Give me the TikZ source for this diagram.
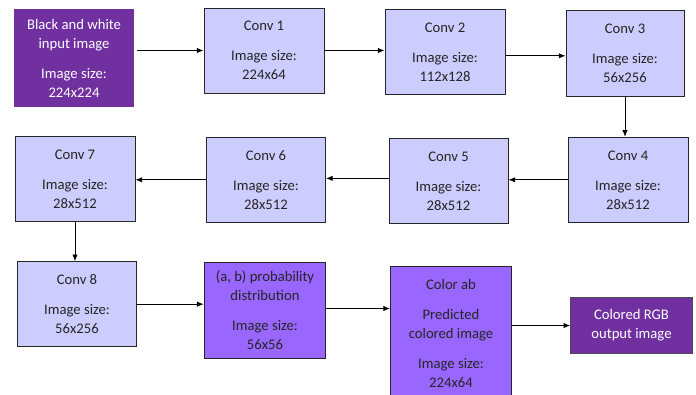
\documentclass[tikz,border=0pt]{standalone}
\usepackage{fontspec}
\setmainfont{Carlito}
\usetikzlibrary{arrows.meta}
\definecolor{darkp}{HTML}{7030A0}
\definecolor{lightp}{HTML}{CCCCFF}
\definecolor{midp}{HTML}{9966FF}
\definecolor{txt}{HTML}{262626}
\begin{document}
\begin{tikzpicture}[x=0.75pt,y=-0.75pt,
  every node/.style={font=\fontsize{11}{14.25}\selectfont, align=center, inner sep=0pt},
  lbox/.style={draw=black!85, line width=0.75pt, fill=lightp, text=txt},
  pbox/.style={draw=black!85, line width=0.75pt, fill=midp, text=txt},
  dbox/.style={fill=darkp, text=white},
  rbox/.style={draw=black!70, line width=0.75pt, fill=darkp, text=white},
  arr/.style={-{Latex[length=5pt,width=4pt]}, line width=0.6pt, black}]
\useasboundingbox (0,0) rectangle (696,394);
\node[dbox, minimum width=90pt, minimum height=73.5pt] (inp) at (74,58)
  {Black and white\\input image\\[8.25pt]Image size:\\224x224};
\node[lbox, minimum width=90pt, minimum height=63.75pt] (c1) at (264,50.5)
  {Conv 1\\[8.25pt]Image size:\\224x64};
\node[lbox, minimum width=90pt, minimum height=63.75pt] (c2) at (445,51.8)
  {Conv 2\\[8.25pt]Image size:\\112x128};
\node[lbox, minimum width=88.5pt, minimum height=64.5pt] (c3) at (625,53.7)
  {Conv 3\\[8.25pt]Image size:\\56x256};
\node[lbox, minimum width=90pt, minimum height=63.75pt] (c4) at (628,179.8)
  {Conv 4\\[8.25pt]Image size:\\28x512};
\node[lbox, minimum width=89.25pt, minimum height=64pt] (c5) at (448.5,181)
  {Conv 5\\[8.25pt]Image size:\\28x512};
\node[lbox, minimum width=89.25pt, minimum height=63.75pt] (c6) at (266,179.8)
  {Conv 6\\[8.25pt]Image size:\\28x512};
\node[lbox, minimum width=90pt, minimum height=63.75pt] (c7) at (75,179.2)
  {Conv 7\\[8.25pt]Image size:\\28x512};
\node[lbox, minimum width=89.5pt, minimum height=63.75pt] (c8) at (77,304.2)
  {Conv 8\\[8.25pt]Image size:\\56x256};
\node[pbox, minimum width=91.3pt, minimum height=71.7pt] (prob) at (265,310.5)
  {(a, b) probability\\distribution\\[8.25pt]Image size:\\56x56};
\node[pbox, minimum width=90.75pt, minimum height=100.5pt] (cab) at (451,333)
  {Color ab\\[8.25pt]Predicted\\colored image\\[8.25pt]Image size:\\224x64};
\node[rbox, minimum width=91.2pt, minimum height=41.7pt] (rgb) at (631.5,325.5)
  {Colored RGB\\output image};
\draw[arr] ([xshift=2pt]inp.east |- c1.west) -- (c1.west);
\draw[arr] (c1.east) -- (c1.east -| c2.west);
\draw[arr] ([yshift=-3pt]c2.east) -- ([yshift=-3pt]c2.east -| c3.west);
\draw[arr] (c3.south) -- (c3.south |- c4.north);
\draw[arr] (c4.west) -- (c4.west -| c5.east);
\draw[arr] ([yshift=2pt]c5.west) -- ([yshift=2pt]c5.west -| c6.east);
\draw[arr] (c6.west) -- (c6.west -| c7.east);
\draw[arr] (c7.south) -- (c7.south |- c8.north);
\draw[arr] (c8.east) -- (c8.east -| prob.west);
\draw[arr] (prob.west -| prob.east) ++(0,-2) -- ([yshift=1.5pt]prob.west -| cab.west);
\draw[arr] (rgb.west -| cab.east) -- (rgb.west);
\end{tikzpicture}
\end{document}
